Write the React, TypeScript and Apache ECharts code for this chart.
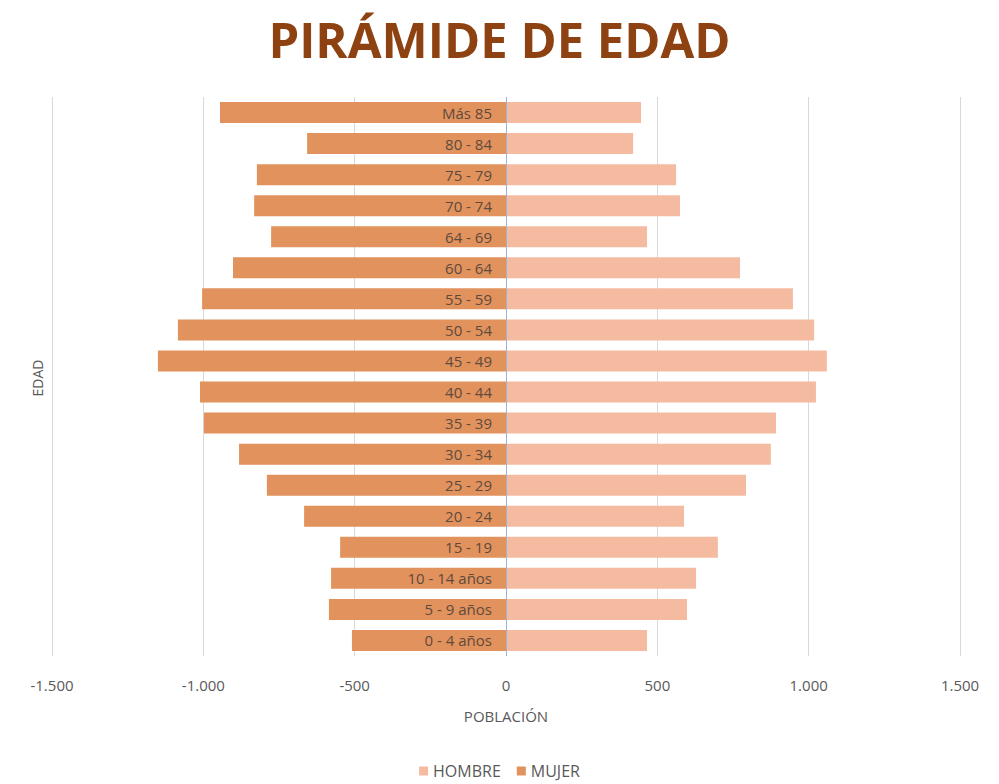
import React, { useEffect, useRef } from "react";
import * as echarts from "echarts";

const categories = [
  "0 - 4 años", "5 - 9 años", "10 - 14 años", "15 - 19", "20 - 24", "25 - 29",
  "30 - 34", "35 - 39", "40 - 44", "45 - 49", "50 - 54", "55 - 59",
  "60 - 64", "64 - 69", "70 - 74", "75 - 79", "80 - 84", "Más 85",
];
const hombre = [466, 598, 628, 700, 588, 793, 875, 892, 1024, 1060, 1018, 948, 773, 466, 575, 562, 420, 446];
const mujer = [509, 585, 578, 548, 667, 790, 882, 998, 1011, 1150, 1084, 1004, 902, 776, 832, 823, 657, 945];
const xTicks = [-1500, 1500, 500];

const fmt = (v: number) => {
  const a = Math.abs(v);
  const s = a >= 1000 ? Math.floor(a / 1000) + "." + String(a % 1000).padStart(3, "0") : String(a);
  return (v < 0 ? "-" : "") + s;
};

const FONT = "'Liberation Sans Narrow', 'Open Sans', sans-serif";

export default function App() {
  const ref = useRef<HTMLDivElement>(null);
  useEffect(() => {
    const chart = echarts.init(ref.current!, null, { renderer: "svg" });
    chart.setOption({
      animation: false,
      title: {
        text: "PIRÁMIDE DE EDAD",
        left: "center",
        top: 9,
        textStyle: { fontFamily: "'Open Sans', sans-serif", fontSize: 49, fontWeight: "bold", color: "#8E4211" },
      },
      legend: {
        data: ["HOMBRE", "MUJER"],
        bottom: 0,
        left: "center",
        icon: "rect",
        itemWidth: 9,
        itemHeight: 9,
        itemGap: 16,
        textStyle: { fontFamily: FONT, fontSize: 16, color: "#595959" },
      },
      grid: { left: 52, right: 39, top: 97, bottom: 128, outerBoundsMode: "none", containLabel: false },
      xAxis: {
        type: "value",
        min: xTicks[0],
        max: xTicks[1],
        interval: xTicks[2],
        axisLine: { show: false },
        axisTick: { show: false },
        splitLine: { show: true, lineStyle: { color: "#d9d9d9", width: 1 } },
        axisLabel: { formatter: (v: number) => fmt(v), fontFamily: FONT, fontSize: 15, color: "#595959", margin: 21 },
        name: "POBLACIÓN",
        nameLocation: "middle",
        nameGap: 52,
        nameTextStyle: { fontFamily: FONT, fontSize: 15, color: "#595959" },
      },
      yAxis: {
        type: "category",
        data: categories,
        axisLine: { show: false },
        axisTick: { show: false },
        axisLabel: { show: false },
        splitLine: { show: false },
      },
      graphic: [
        {
          type: "text",
          x: 37,
          y: 378,
          rotation: Math.PI / 2,
          style: {
            text: "EDAD",
            fontFamily: FONT,
            fontSize: 14,
            fill: "#595959",
            align: "center",
            verticalAlign: "middle",
          },
        },
      ],
      series: [
        {
          name: "HOMBRE",
          type: "bar",
          stack: "total",
          data: hombre,
          barWidth: 21,
          itemStyle: { color: "#F4BBA0" },
          markLine: {
            silent: true,
            symbol: "none",
            label: { show: false },
            lineStyle: { color: "#9fb3cf", width: 1, type: "solid" },
            data: [{ xAxis: 0 }],
            z: 10,
          },
        },
        {
          name: "MUJER",
          type: "bar",
          stack: "total",
          data: mujer.map((v) => -v),
          barWidth: 21,
          itemStyle: { color: "#E2925C" },
          label: {
            show: true,
            position: "insideRight",
            distance: 14,
            formatter: (p: any) => categories[p.dataIndex],
            fontFamily: FONT,
            fontSize: 15,
            color: "#5e4a3e",
          },
        },
      ],
    });
    return () => chart.dispose();
  }, []);
  return <div ref={ref} style={{ width: 999, height: 784, position: "absolute", left: 0, top: 0, background: "#fff" }} />;
}
